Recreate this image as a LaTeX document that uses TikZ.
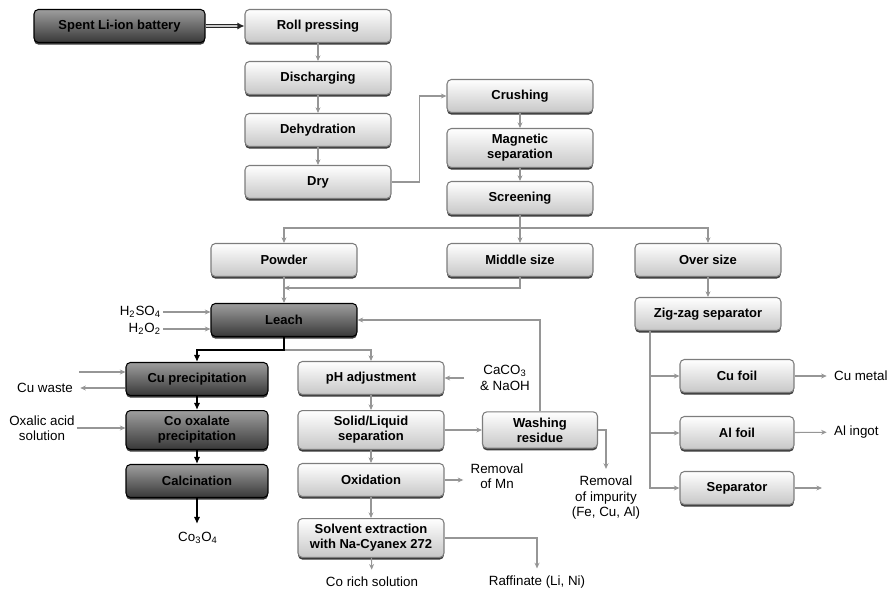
\documentclass[tikz,border=0pt]{standalone}
\usepackage{fontspec}
\setmainfont{Liberation Sans}
\usetikzlibrary{arrows.meta,positioning,calc,shadows}
\definecolor{flowline}{RGB}{150,150,150}
\definecolor{boxedge}{RGB}{125,125,125}

\begin{document}
\begin{tikzpicture}[
  x=0.02cm, y=-0.02cm,
  % Styles
  every node/.style={font=\fontsize{7.6}{8.8}\selectfont},
  proc/.style={
    draw=boxedge,
    rounded corners=2.5pt,
    minimum width=2.92cm,
    minimum height=0.66cm,
    align=center,
    top color=white,
    bottom color=black!22,
    line width=0.6pt,
    font=\fontsize{7.4}{8.6}\selectfont\bfseries,
    drop shadow={shadow xshift=0pt, shadow yshift=-1.2pt, fill=black!85, opacity=0.9}
  },
  dark/.style={
    proc,
    draw=black,
    top color=black!38,
    bottom color=black!78
  },
  lbl/.style={align=center, inner sep=1pt},
  arr/.style={
    -{Stealth[length=3.2pt,width=2.8pt]},
    draw=flowline,
    line width=0.6pt
  },
  outarr/.style={arr, shorten >=3pt},
  thk/.style={
    -{Latex[length=4pt,width=3.6pt]},
    draw=black,
    line width=1.5pt
  },
  dbl/.style={
    -{Latex[length=4pt,width=4pt]},
    draw=black!85,
    double=black!20,
    double distance=0.6pt,
    line width=0.7pt
  }
]
\useasboundingbox (0,0) rectangle (887,591);

% Pretreatment
\node[dark, minimum width=3.42cm] (spent) at (119.5,26) {Spent Li-ion battery};
\node[proc] (roll) at (318,26) {Roll pressing};
\node[proc] (dis) at (318,78) {Discharging};
\node[proc] (dehy) at (318,130) {Dehydration};
\node[proc] (dry) at (318,182) {Dry};

% Mechanical separation
\node[proc] (crush) at (520,96) {Crushing};
\node[proc] (mag) at (520,148) {Magnetic\\separation};
\node[proc] (screen) at (520,198) {Screening};

\node[proc] (powder) at (284,260) {Powder};
\node[proc] (middle) at (520,260) {Middle size};
\node[proc] (over) at (708,260) {Over size};

% Leaching
\node[dark] (leach) at (284,320) {Leach};
\node[lbl, anchor=east] (h2so4) at (163,312) {H\textsubscript{2}SO\textsubscript{4}};
\node[lbl, anchor=east] (h2o2) at (163,329) {H\textsubscript{2}O\textsubscript{2}};

% Co recovery
\node[dark, minimum width=2.84cm] (cuprec) at (197,379) {Cu precipitation};
\node[dark, minimum width=2.84cm] (coox) at (197,430) {Co oxalate\\precipitation};
\node[dark, minimum width=2.84cm] (calcin) at (197,481) {Calcination};
\node[lbl] (co3o4) at (198,538) {Co\textsubscript{3}O\textsubscript{4}};
\node[lbl, anchor=east] (cuwaste) at (75,388) {Cu waste};
\node[lbl] (oxalic) at (42,428) {Oxalic acid\\solution};
\coordinate (cuin) at (79,372);
\coordinate (coend) at (197,524);

% Hydrometallurgy
\node[proc] (ph) at (371,378) {pH adjustment};
\node[proc] (sl) at (371,430) {Solid/Liquid\\separation};
\node[proc] (ox) at (371,480) {Oxidation};
\node[proc] (sx) at (371,538) {Solvent extraction\\with Na-Cyanex 272};
\node[proc, minimum width=2.3cm] (wash) at (540,430) {Washing\\residue};
\node[lbl] (caco3) at (505,378) {CaCO\textsubscript{3}\\\& NaOH};
\node[lbl] (mn) at (497,476) {Removal\\of Mn};
\node[lbl] (imp) at (606,498) {Removal\\of impurity\\(Fe, Cu, Al)};
\node[lbl] (cosol) at (372,582) {Co rich solution};
\node[lbl] (raff) at (537,582) {Raffinate (Li, Ni)};

% Foil separation
\node[proc] (zig) at (708,314) {Zig-zag separator};
\node[proc, minimum width=2.28cm] (cufoil) at (737,376) {Cu foil};
\node[proc, minimum width=2.28cm] (alfoil) at (737,433) {Al foil};
\node[proc, minimum width=2.28cm] (sep) at (737,488) {Separator};
\node[lbl, anchor=west] (cumetal) at (832,376) {Cu metal};
\node[lbl, anchor=west] (alingot) at (832,432) {Al ingot};
\coordinate (sepout) at (822,488);

% Connectors
\coordinate (split) at (520,228);
\coordinate (merge) at (284,288);
\coordinate (lsplit) at (284,350);
\coordinate (zb) at (650,331);

\draw[dbl] (spent) -- (roll);
\draw[arr] (roll) -- (dis);
\draw[arr] (dis) -- (dehy);
\draw[arr] (dehy) -- (dry);
\draw[arr] (dry.east) -- ++(28,0) |- (crush.west);
\draw[arr] (crush) -- (mag);
\draw[arr] (mag) -- (screen);

\draw[arr, -] (screen) -- (split);
\draw[arr] (split) -| (powder.north);
\draw[arr] (split) -| (over.north);
\draw[arr] (split) -- (middle);
\draw[arr] (middle.south) |- (merge);
\draw[arr] (powder) -- (leach);

\draw[arr] (h2so4.east) -- (h2so4.east -| leach.west);
\draw[arr] (h2o2.east) -- (h2o2.east -| leach.west);

\draw[arr] (lsplit) -| (ph.north);
\draw[thk] (leach.south) -- (lsplit) -| (cuprec.north);
\draw[thk] (cuprec) -- (coox);
\draw[thk] (coox) -- (calcin);
\draw[thk] (calcin) -- (coend);

\draw[arr] (cuin) -- (cuin -| cuprec.west);
\draw[outarr] (cuprec.west |- cuwaste) -- (cuwaste.east);
\draw[arr] (oxalic.east) -- (oxalic.east -| coox.west);

\draw[arr] ($(caco3.west |- ph.east)+(-14,0)$) -- (ph.east);
\draw[arr] (ph) -- (sl);
\draw[arr] (sl) -- (ox);
\draw[arr] (ox) -- (sx);
\draw[arr] (sl) -- (wash);
\draw[arr] (wash.north) |- (leach.east);
\draw[outarr] (wash.east) -| (imp.north);
\draw[outarr] (ox) -- (ox -| mn.west);
\draw[outarr] (sx) -- (cosol);
\draw[outarr] (sx.east) -| (raff.north);

\draw[arr] (over) -- (zig);
\draw[arr, -] (zig.south -| zb) -- (zb |- sep.west);
\draw[arr] (zb) |- (cufoil.west);
\draw[arr] (zb) |- (alfoil.west);
\draw[arr] (zb) |- (sep.west);
\draw[outarr] (cufoil) -- (cumetal);
\draw[outarr] (alfoil) -- (alingot);
\draw[arr] (sep) -- (sepout);

\end{tikzpicture}
\end{document}
